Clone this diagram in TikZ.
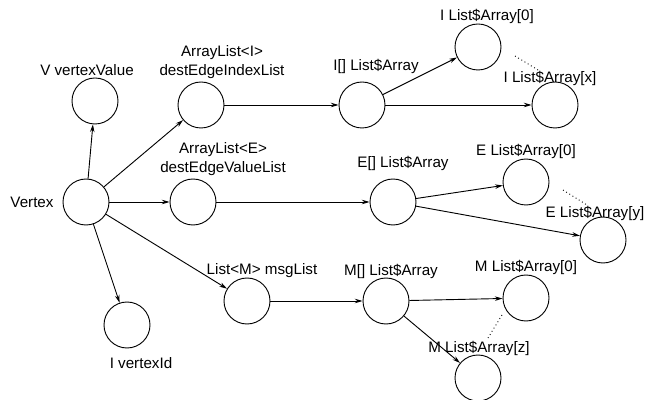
\documentclass[tikz,border=0pt]{standalone}
\usepackage{fontspec}
\setmainfont{Liberation Sans}
\usepackage{tikz}
\usetikzlibrary{arrows.meta,positioning}

\begin{document}
\begin{tikzpicture}[>={Stealth[length=5.5pt,width=3.2pt]},line width=0.65pt,
    obj/.style={circle,draw,minimum size=1.15cm,inner sep=0pt},
    lbl/.style={font=\fontsize{10.8}{13.5}\selectfont,inner sep=0pt,align=center}]
  \useasboundingbox (0,0) rectangle (16.175,10);
  \node[obj] (vtx) at (2.15,4.95) {};
  \node[obj] (val) at (2.375,7.475) {};
  \node[obj] (idx) at (5.025,7.375) {};
  \node[obj] (evl) at (4.825,4.95) {};
  \node[obj] (msg) at (6.175,2.475) {};
  \node[obj] (vid) at (3.175,1.875) {};
  \node[obj] (iarr) at (9.05,7.375) {};
  \node[obj] (izero) at (11.95,8.825) {};
  \node[obj] (ix) at (13.875,7.375) {};
  \node[obj] (earr) at (9.825,4.95) {};
  \node[obj] (ezero) at (13.15,5.45) {};
  \node[obj] (ey) at (15.075,4.0) {};
  \node[obj] (marr) at (9.65,2.475) {};
  \node[obj] (mzero) at (13.15,2.55) {};
  \node[obj] (mz) at (11.95,0.55) {};
  \node[lbl] (vtxL) at (0.8,4.95) {Vertex};
  \node[lbl] (valL) at (2.175,8.25) {V vertexValue};
  \node[lbl] (idxL) at (5.55,8.45) {ArrayList<I>\\destEdgeIndexList};
  \node[lbl] (evlL) at (5.575,6.025) {ArrayList<E>\\destEdgeValueList};
  \node[lbl] (msgL) at (6.55,3.225) {List<M> msgList};
  \node[lbl] (vidL) at (3.525,0.925) {I vertexId};
  \node[lbl] (iarrL) at (9.4,8.35) {I[] List\$Array};
  \node[lbl] (izeroL) at (12.175,9.6) {I List\$Array[0]};
  \node[lbl] (ixL) at (13.75,8.05) {I List\$Array[x]};
  \node[lbl] (earrL) at (10.075,5.925) {E[] List\$Array};
  \node[lbl] (ezeroL) at (13.15,6.225) {E List\$Array[0]};
  \node[lbl] (eyL) at (14.875,4.675) {E List\$Array[y]};
  \node[lbl] (marrL) at (9.775,3.225) {M[] List\$Array};
  \node[lbl] (mzeroL) at (13.15,3.325) {M List\$Array[0]};
  \node[lbl] (mzL) at (11.975,1.3) {M List\$Array[z]};
  \coordinate (ia) at (12.875,8.6);
  \coordinate (ib) at (13.45,8.25);
  \coordinate (ea) at (14.075,5.25);
  \coordinate (eb) at (14.675,4.875);
  \coordinate (ma) at (12.55,2.125);
  \coordinate (mb) at (12.2,1.55);
  \draw[->] (vtx) -- (val);
  \draw[->] (vtx) -- (idx);
  \draw[->] (vtx) -- (evl);
  \draw[->] (vtx) -- (msg);
  \draw[->] (vtx) -- (vid);
  \draw[->] (idx) -- (iarr);
  \draw[->] (iarr) -- (izero);
  \draw[->] (iarr) -- (ix);
  \draw[->] (evl) -- (earr);
  \draw[->] (earr) -- (ezero);
  \draw[->] (earr) -- (ey);
  \draw[->] (msg) -- (marr);
  \draw[->] (marr) -- (mzero);
  \draw[->] (marr) -- (mz);
  \draw[dotted] (ia) -- (ib);
  \draw[dotted] (ea) -- (eb);
  \draw[dotted] (ma) -- (mb);
\end{tikzpicture}
\end{document}
